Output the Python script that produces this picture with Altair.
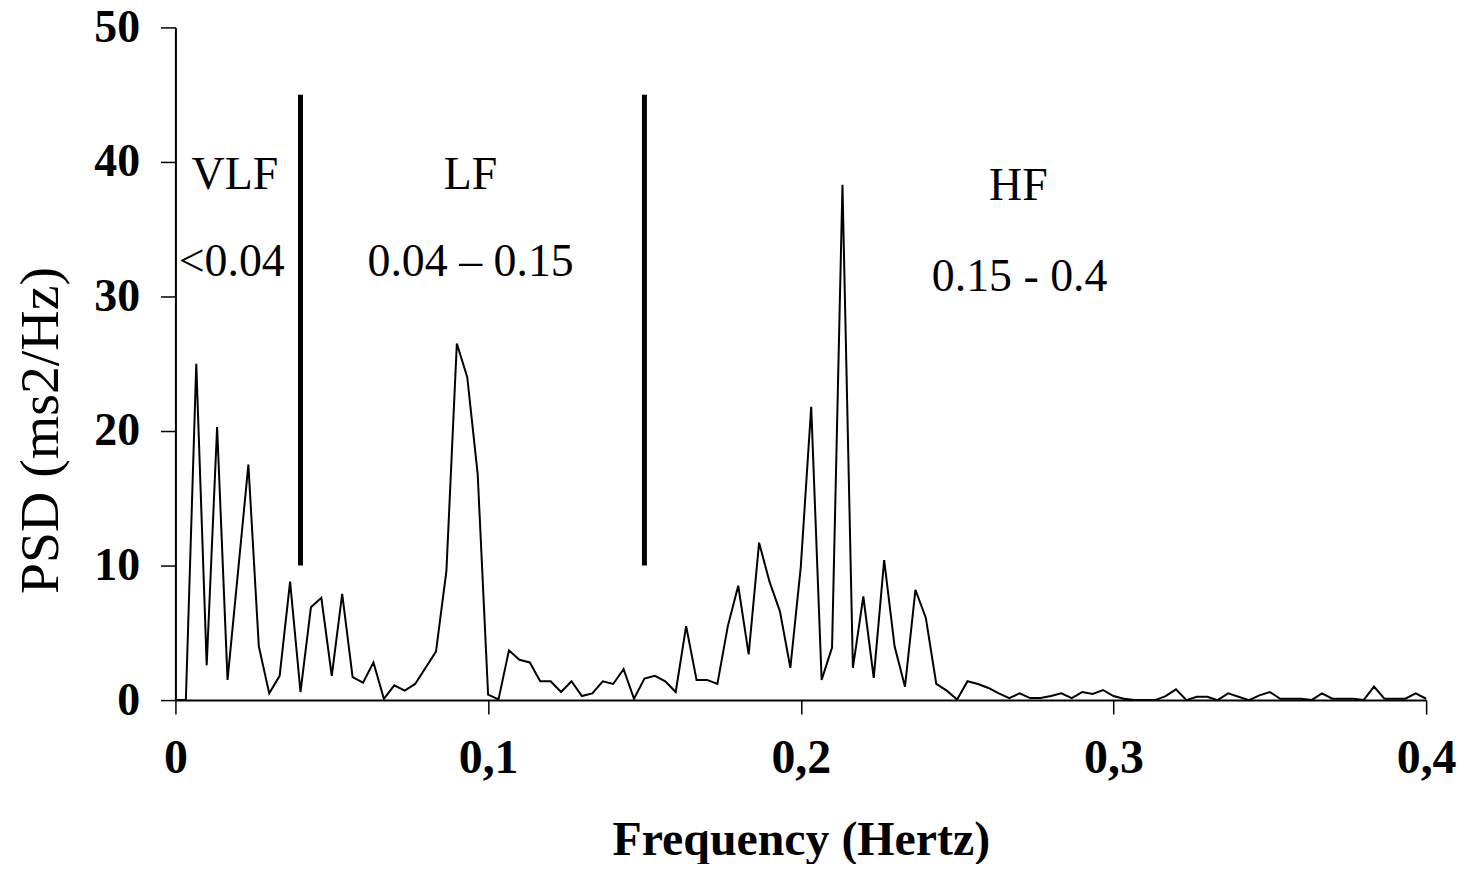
import altair as alt
import pandas as pd

# Spectrum sampled every 1/300 Hz from 0 to 0.4 Hz
step_index = list(range(121))
psd = [
    0.0, 0.0, 25.0, 2.6, 20.3, 1.5, 9.5, 17.5, 4.0, 0.5,
    1.8, 8.8, 0.6, 6.9, 7.6, 1.8, 7.9, 1.7, 1.3, 2.8,
    0.1, 1.1, 0.7, 1.2, 2.4, 3.6, 9.6, 26.5, 24.0, 16.8,
    0.4, 0.05, 3.7, 3.0, 2.8, 1.4, 1.4, 0.6, 1.4, 0.3,
    0.5, 1.4, 1.2, 2.3, 0.1, 1.6, 1.8, 1.4, 0.6, 5.5,
    1.5, 1.5, 1.2, 5.5, 8.5, 3.4, 11.7, 8.8, 6.6, 2.4,
    9.9, 21.8, 1.5, 3.9, 38.3, 2.4, 7.7, 1.65, 10.4, 4.0,
    1.0, 8.2, 6.1, 1.2, 0.7, 0.05, 1.4, 1.2, 0.9, 0.5,
    0.15, 0.5, 0.15, 0.15, 0.3, 0.5, 0.15, 0.6, 0.45, 0.75,
    0.3, 0.1, 0.0, 0.0, 0.0, 0.3, 0.8, 0.0, 0.25, 0.25,
    0.0, 0.5, 0.25, 0.0, 0.35, 0.6, 0.1, 0.1, 0.1, 0.0,
    0.5, 0.1, 0.1, 0.1, 0.0, 1.0, 0.1, 0.1, 0.1, 0.5,
    0.1,
]
freq = [round(i / 300.0, 6) for i in step_index]

band_edges = [0.04, 0.15]
band_low = [10, 10]
band_high = [45, 45]

ann_text = ["VLF", "<0.04", "LF", "0.04 \u2013 0.15", "HF", "0.15 - 0.4"]
ann_x = [0.019, 0.018, 0.0944, 0.0944, 0.2696, 0.2700]
ann_y = [38.0, 31.5, 38.0, 31.5, 37.2, 30.4]

x_ticks = [0, 0.1, 0.2, 0.3, 0.4]
y_ticks = [0, 10, 20, 30, 40, 50]

df = pd.DataFrame({"f": freq, "psd": psd})
bands = pd.DataFrame({"f": band_edges, "y": band_low, "y2": band_high})
ann = pd.DataFrame({"t": ann_text, "f": ann_x, "y": ann_y})

FONT = "Liberation Serif"

xscale = alt.Scale(domain=[0, 0.4], nice=False, zero=False)
yscale = alt.Scale(domain=[0, 50], nice=False)

line = alt.Chart(df).mark_line(color="black", strokeWidth=2).encode(
    x=alt.X(
        "f:Q",
        scale=xscale,
        axis=alt.Axis(
            values=x_ticks,
            labelExpr="datum.value == 0 ? '0' : replace(format(datum.value, '.1f'), '.', ',')",
            title="Frequency (Hertz)",
            titleFont=FONT,
            titleFontSize=48,
            titleFontWeight="bold",
            titleColor="black",
            titlePadding=34,
            labelFont=FONT,
            labelFontSize=48,
            labelFontWeight="bold",
            labelColor="black",
            labelPadding=21,
            tickSize=14,
            grid=False,
            labelFlush=False,
            labelOverlap=False,
        ),
    ),
    y=alt.Y(
        "psd:Q",
        scale=yscale,
        axis=alt.Axis(
            values=y_ticks,
            title="PSD (ms2/Hz)",
            titleFont=FONT,
            titleFontSize=56,
            titleFontWeight="normal",
            titleColor="black",
            titleAngle=270,
            titleAlign="center",
            titleBaseline="alphabetic",
            titleX=-118,
            titleY=404,
            labelFont=FONT,
            labelFontSize=46,
            labelFontWeight="bold",
            labelColor="black",
            labelPadding=21,
            tickSize=15,
            grid=False,
            labelFlush=False,
            labelOverlap=False,
        ),
    ),
)

rules = alt.Chart(bands).mark_rule(color="black", strokeWidth=5).encode(
    x=alt.X("f:Q", scale=xscale),
    y=alt.Y("y:Q", scale=yscale),
    y2="y2:Q",
)

texts = alt.Chart(ann).mark_text(
    font=FONT, fontSize=46, color="black", align="center", baseline="alphabetic"
).encode(
    x=alt.X("f:Q", scale=xscale),
    y=alt.Y("y:Q", scale=yscale),
    text="t:N",
)

chart = (
    alt.layer(line, rules, texts)
    .properties(
        width=1255,
        height=675,
        autosize=alt.AutoSizeParams(type="none"),
        padding={"left": 168, "top": 18, "right": 40, "bottom": 163},
        background="white",
    )
    .configure_view(stroke=None)
    .configure_axis(domainColor="black", tickColor="black", domainWidth=2, tickWidth=1.5)
)

chart.save("out.html", embed_options={"renderer": "svg", "actions": False})
